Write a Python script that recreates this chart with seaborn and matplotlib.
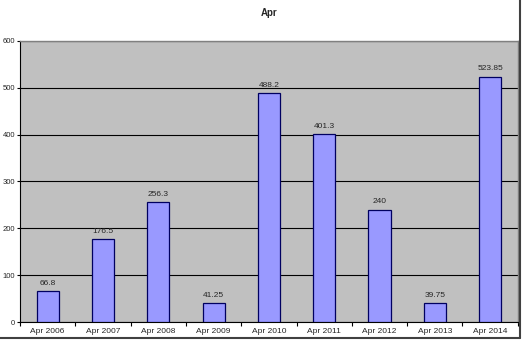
import matplotlib
matplotlib.use("Agg")
import matplotlib.pyplot as plt
import seaborn as sns
import pandas as pd
import numpy as np
from matplotlib.lines import Line2D

categories = ["Apr 2006", "Apr 2007", "Apr 2008", "Apr 2009", "Apr 2010",
              "Apr 2011", "Apr 2012", "Apr 2013", "Apr 2014"]
values = [66.8, 176.5, 256.3, 41.25, 488.2, 401.3, 240, 39.75, 523.85]
labels = ["66.8", "176.5", "256.3", "41.25", "488.2", "401.3", "240", "39.75", "523.85"]
yticks = [0, 100, 200, 300, 400, 500, 600]

sns.set_style("white")
plt.rcParams['font.family'] = ['Liberation Sans', 'DejaVu Sans']

df = pd.DataFrame({"cat": categories, "val": values})

fig = plt.figure(figsize=(5.23, 3.41), dpi=100)
ax = fig.add_axes([0.0382, 0.0557, 0.9518, 0.8241])
ax.set_facecolor("#C0C0C0")

sns.barplot(data=df, x="cat", y="val", ax=ax, color="#9999FF", width=0.4,
            edgecolor="#000060", linewidth=0.9, saturation=1, zorder=3)

ax.set_ylim(0, 600)
ax.set_xlim(-0.5, len(categories) - 0.5)
ax.set_yticks(yticks)
ax.set_yticklabels([str(t) for t in yticks], fontsize=5.5)
ax.yaxis.grid(True, color="black", linewidth=0.8, zorder=1)
ax.set_axisbelow(True)

ax.set_xticks(range(len(categories)))
ax.set_xticklabels(categories, fontsize=6)
ax.tick_params(axis="x", length=0, pad=4)
ax.tick_params(axis="y", length=2.5, width=0.8, color="black", pad=1, left=True)
ax.set_xticks(np.arange(-0.5, len(categories), 1.0), minor=True)
ax.tick_params(axis="x", which="minor", length=3, width=0.8, color="black", bottom=True)

ax.set_xlabel("")
ax.set_ylabel("")

for sp in ["top", "right"]:
    ax.spines[sp].set_color("#808080")
    ax.spines[sp].set_linewidth(1.0)
for sp in ["left", "bottom"]:
    ax.spines[sp].set_color("black")
    ax.spines[sp].set_linewidth(0.8)

for i, (v, lab) in enumerate(zip(values, labels)):
    ax.annotate(lab, (i, v), xytext=(0, 3), textcoords="offset points",
                ha="center", va="bottom", fontsize=6)

ax.set_title("Apr", fontsize=7, fontweight="bold", pad=18)

fig.add_artist(Line2D([0.994, 0.994], [0.01, 1.0], color="#404040", linewidth=1.5, transform=fig.transFigure))
fig.add_artist(Line2D([0.0, 0.994], [0.01, 0.01], color="#404040", linewidth=1.5, transform=fig.transFigure))

fig.savefig("out.png", dpi=100, facecolor="white")
